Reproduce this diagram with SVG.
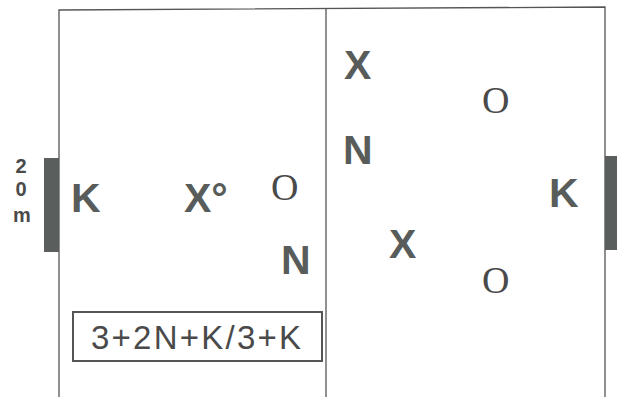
<svg xmlns="http://www.w3.org/2000/svg" width="617" height="397" viewBox="0 0 617 397">
<style>
.b{font-family:"Liberation Sans",Arial,sans-serif;font-weight:bold;font-size:41px;fill:#585c5a}
.o{font-family:"Liberation Serif","Times New Roman",serif;font-size:38px;fill:#4a4a4a}
.line{stroke:#555;stroke-width:1.3;fill:none}
.goal{fill:#5a5e5c}
</style>
<rect width="617" height="397" fill="#fff"/>
<g id="field">
<polyline class="line" points="59,400 59,10 605,7 605,400"/>
<line class="line" x1="326" y1="9" x2="326" y2="397"/>
</g>
<g id="goal-left"><rect class="goal" x="44" y="158" width="15" height="94"/></g>
<g id="goal-right"><rect class="goal" x="605" y="156" width="12" height="94"/></g>
<g id="label-20m" font-family="Liberation Sans,Arial,sans-serif" font-weight="bold" font-size="20" fill="#4a4a4a" text-anchor="middle">
<text x="21" y="173">2</text><text x="21" y="196">0</text><text x="22" y="222">m</text>
</g>
<g id="k-left"><text class="b" x="71" y="212">K</text></g>
<g id="x-deg"><text class="b" x="184" y="212">X°</text></g>
<g id="o-left"><text class="o" x="271" y="200">O</text></g>
<g id="n-left"><text class="b" x="281" y="274">N</text></g>
<g id="x-right-top"><text class="b" x="344" y="79">X</text></g>
<g id="n-right"><text class="b" x="343" y="164">N</text></g>
<g id="o-right-top"><text class="o" x="482" y="113">O</text></g>
<g id="x-right"><text class="b" x="389" y="258">X</text></g>
<g id="o-right-bottom"><text class="o" x="482" y="293">O</text></g>
<g id="k-right"><text class="b" x="549" y="207">K</text></g>
<g id="formula">
<rect x="73" y="312" width="249" height="49" fill="none" stroke="#555" stroke-width="2"/>
<text x="91" y="349" font-family="Liberation Sans,Arial,sans-serif" font-size="33" fill="#4a4a4a" textLength="210" lengthAdjust="spacing">3+2N+K/3+K</text>
</g>
</svg>
